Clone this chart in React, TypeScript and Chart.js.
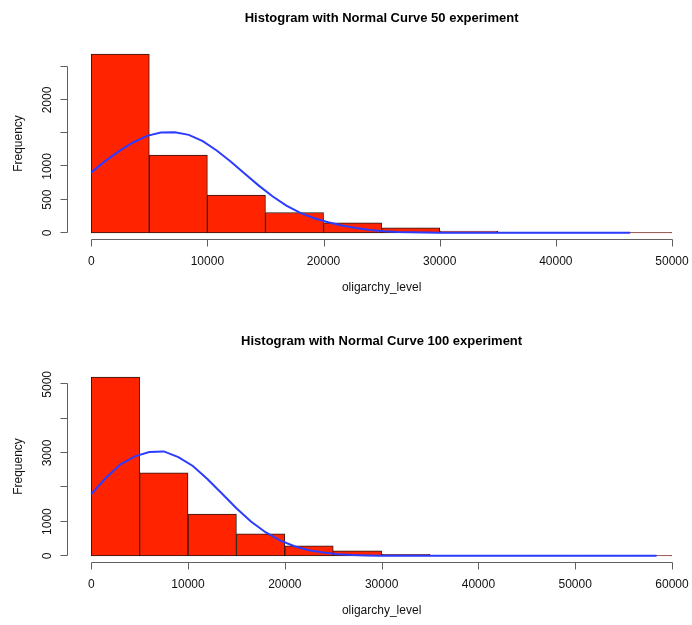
import React, { useEffect, useRef } from 'react';
import { Chart, registerables } from 'chart.js';

Chart.register(...registerables);

// ---------- Top panel: 50 experiment ----------
const titleTop = 'Histogram with Normal Curve 50 experiment';
const binEdgesTop = [0, 5000, 10000, 15000, 20000, 25000, 30000, 35000, 40000, 45000, 50000];
const countsTop = [2690, 1170, 568, 307, 150, 75, 28, 8, 3, 1];
const curveXTop = [0, 1200, 2400, 3600, 4800, 6000, 7200, 8400, 9600, 10800, 12000, 13200, 14400, 15600, 16800, 18000, 19200, 20400, 21600, 22800, 24000, 25200, 26400, 27600, 28800, 30000, 32000, 34000, 36000, 40000, 44000, 46400];
const curveYTop = [910, 1080, 1230, 1360, 1460, 1510, 1515, 1475, 1380, 1240, 1075, 895, 715, 550, 410, 300, 220, 160, 110, 72, 44, 25, 14, 8, 4, 2, 1, 0, 0, 0, 0, 0];
const xTicksTop = [0, 10000, 20000, 30000, 40000, 50000];
const xTickLabelsTop = ['0', '10000', '20000', '30000', '40000', '50000'];
const yTicksTop = [0, 500, 1000, 1500, 2000, 2500];
const yTickLabelsTop = ['0', '500', '1000', '', '2000', ''];

// ---------- Bottom panel: 100 experiment ----------
const titleBottom = 'Histogram with Normal Curve 100 experiment';
const binEdgesBottom = [0, 5000, 10000, 15000, 20000, 25000, 30000, 35000, 40000, 45000, 50000, 55000, 60000];
const countsBottom = [5210, 2420, 1215, 641, 292, 146, 42, 12, 5, 3, 1, 1];
const curveXBottom = [0, 1500, 3000, 4500, 6000, 7500, 9000, 10500, 12000, 13500, 15000, 16500, 18000, 19500, 21000, 22500, 24000, 25500, 27000, 28500, 30000, 31500, 33000, 34500, 37500, 42000, 48000, 54000, 58400];
const curveYBottom = [1800, 2270, 2660, 2900, 3030, 3045, 2880, 2620, 2240, 1820, 1390, 1000, 690, 450, 280, 165, 95, 50, 25, 12, 6, 3, 1, 0, 0, 0, 0, 0, 0];
const xTicksBottom = [0, 10000, 20000, 30000, 40000, 50000, 60000];
const xTickLabelsBottom = ['0', '10000', '20000', '30000', '40000', '50000', '60000'];
const yTicksBottom = [0, 1000, 2000, 3000, 4000, 5000];
const yTickLabelsBottom = ['0', '1000', '', '3000', '', '5000'];

const xLabel = 'oligarchy_level';
const yLabel = 'Frequency';

const FONT = '"Liberation Sans", Arial, Helvetica, sans-serif';
const BAR_FILL = '#ff2300';
const BAR_BORDER = '#2a1a14';
const CURVE = '#2b3cff';
const AXIS = '#606060';
const TEXT = '#111111';

const rAxesPlugin = {
  id: 'rAxes',
  beforeDatasetsDraw(chart: any) {
    const o = chart.options.plugins.rAxes;
    const { ctx } = chart;
    const x = chart.scales.x;
    const y = chart.scales.y;
    const edges: number[] = o.edges;
    ctx.save();
    ctx.strokeStyle = '#7a7a7a';
    ctx.lineWidth = 1;
    const y0 = Math.round(y.getPixelForValue(0)) - 0.5;
    ctx.beginPath();
    ctx.moveTo(x.getPixelForValue(edges[0]), y0);
    ctx.lineTo(x.getPixelForValue(edges[edges.length - 1]), y0);
    ctx.stroke();
    ctx.restore();
  },
  afterDraw(chart: any) {
    const o = chart.options.plugins.rAxes;
    const { ctx, chartArea } = chart;
    const x = chart.scales.x;
    const y = chart.scales.y;
    const edges: number[] = o.edges;
    ctx.save();
    ctx.strokeStyle = AXIS;
    ctx.lineWidth = 1;
    ctx.fillStyle = TEXT;

    // x axis
    const axY = Math.round(chartArea.bottom) - 0.5;
    const xt: number[] = o.xTicks;
    ctx.beginPath();
    ctx.moveTo(Math.round(x.getPixelForValue(xt[0])) + 0.5, axY);
    ctx.lineTo(Math.round(x.getPixelForValue(xt[xt.length - 1])) + 0.5, axY);
    xt.forEach((v) => {
      const px = Math.round(x.getPixelForValue(v)) + 0.5;
      ctx.moveTo(px, axY);
      ctx.lineTo(px, axY + 7);
    });
    ctx.stroke();
    ctx.font = `12px ${FONT}`;
    ctx.textAlign = 'center';
    ctx.textBaseline = 'middle';
    xt.forEach((v, i) => {
      ctx.fillText(o.xTickLabels[i], x.getPixelForValue(v), axY + 22);
    });

    // y axis
    const axX = Math.round(chartArea.left) - 0.5;
    const yt: number[] = o.yTicks;
    ctx.beginPath();
    ctx.moveTo(axX, Math.round(y.getPixelForValue(yt[0])) - 0.5);
    ctx.lineTo(axX, Math.round(y.getPixelForValue(yt[yt.length - 1])) - 0.5);
    yt.forEach((v) => {
      const py = Math.round(y.getPixelForValue(v)) - 0.5;
      ctx.moveTo(axX, py);
      ctx.lineTo(axX - 7, py);
    });
    ctx.stroke();
    yt.forEach((v, i) => {
      const lbl = o.yTickLabels[i];
      if (!lbl) return;
      ctx.save();
      ctx.translate(axX - 20, y.getPixelForValue(v));
      ctx.rotate(-Math.PI / 2);
      ctx.fillText(lbl, 0, 0);
      ctx.restore();
    });

    // axis titles
    const cx = x.getPixelForValue((edges[0] + edges[edges.length - 1]) / 2);
    ctx.fillText(xLabel, cx, axY + 48);
    ctx.save();
    ctx.translate(axX - 49, (chartArea.top + chartArea.bottom) / 2);
    ctx.rotate(-Math.PI / 2);
    ctx.fillText(yLabel, 0, 0);
    ctx.restore();

    // main title
    ctx.font = `bold 13px ${FONT}`;
    ctx.fillStyle = '#000';
    ctx.fillText(o.title, cx, chartArea.top - 29);
    ctx.restore();
  },
};

type PanelProps = {
  title: string;
  edges: number[];
  counts: number[];
  curveX: number[];
  curveY: number[];
  xTicks: number[];
  xTickLabels: string[];
  yTicks: number[];
  yTickLabels: string[];
};

function Panel(props: PanelProps) {
  const ref = useRef<HTMLCanvasElement | null>(null);
  useEffect(() => {
    if (!ref.current) return;
    const { edges, counts, curveX, curveY } = props;
    const first = edges[0];
    const last = edges[edges.length - 1];
    const span = last - first;
    const xmin = first - 0.04 * span;
    // plot area left = 68px (R region start); right edge = 691px; 'last' sits at 672px
    const pxPerUnit = (672 - 68) / (last - xmin);
    const xmax = xmin + (691 - 68) / pxPerUnit;
    const cmax = Math.max(...counts);
    const ymin = -0.04 * cmax;
    const ymax = cmax * 1.04;

    const barData = counts.map((c, i) => ({ x: (edges[i] + edges[i + 1]) / 2, y: c }));
    const lineData = curveX.map((v, i) => ({ x: v, y: curveY[i] }));

    const chart = new Chart(ref.current, {
      type: 'bar',
      data: {
        datasets: [
          {
            type: 'line',
            data: lineData,
            borderColor: CURVE,
            borderWidth: 2,
            pointRadius: 0,
            tension: 0,
            fill: false,
            order: 1,
          } as any,
          {
            type: 'bar',
            data: barData,
            backgroundColor: BAR_FILL,
            borderColor: BAR_BORDER,
            borderWidth: 1,
            borderSkipped: false,
            barPercentage: 1,
            categoryPercentage: 1,
            order: 2,
          } as any,
        ],
      },
      options: {
        responsive: false,
        animation: false,
        devicePixelRatio: 1,
        layout: { padding: { left: 68, right: 1, top: 47, bottom: 83 } },
        plugins: {
          legend: { display: false },
          tooltip: { enabled: false },
          rAxes: {
            title: props.title,
            edges,
            xTicks: props.xTicks,
            xTickLabels: props.xTickLabels,
            yTicks: props.yTicks,
            yTickLabels: props.yTickLabels,
          },
        } as any,
        scales: {
          x: {
            type: 'linear',
            display: false,
            min: xmin,
            max: xmax,
            offset: false,
            ticks: { stepSize: 10000 },
            grid: { display: false },
          },
          y: {
            type: 'linear',
            display: false,
            min: ymin,
            max: ymax,
            grid: { display: false },
          },
        },
      },
      plugins: [rAxesPlugin as any],
    });
    return () => chart.destroy();
  }, []);
  return (
    <div style={{ width: 692, height: 323, position: 'relative' }}>
      <canvas ref={ref} width={692} height={323} style={{ display: 'block', width: 692, height: 323 }} />
    </div>
  );
}

export default function App() {
  return (
    <div
      style={{
        position: 'absolute',
        left: 0,
        top: 0,
        width: 692,
        height: 625,
        overflow: 'hidden',
        background: '#fff',
      }}
    >
      <Panel
        title={titleTop}
        edges={binEdgesTop}
        counts={countsTop}
        curveX={curveXTop}
        curveY={curveYTop}
        xTicks={xTicksTop}
        xTickLabels={xTickLabelsTop}
        yTicks={yTicksTop}
        yTickLabels={yTickLabelsTop}
      />
      <Panel
        title={titleBottom}
        edges={binEdgesBottom}
        counts={countsBottom}
        curveX={curveXBottom}
        curveY={curveYBottom}
        xTicks={xTicksBottom}
        xTickLabels={xTickLabelsBottom}
        yTicks={yTicksBottom}
        yTickLabels={yTickLabelsBottom}
      />
    </div>
  );
}
